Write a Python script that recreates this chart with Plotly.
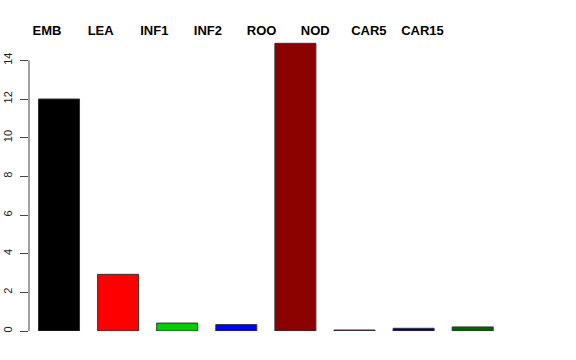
import plotly.graph_objects as go

categories = ["EMB", "LEA", "INF1", "INF2", "ROO", "NOD", "CAR5", "CAR15"]
values = [12.0, 2.93, 0.41, 0.33, 14.88, 0.05, 0.14, 0.21]
colors = ["#000000", "#FF0000", "#00CD00", "#0000FF", "#8B0000", "#800080", "#000080", "#006400"]
y_ticks = [0, 2, 4, 6, 8, 10, 12, 14]

idx = list(range(len(categories)))

fig = go.Figure()
fig.add_trace(go.Bar(
    x=idx,
    y=values,
    width=0.694,
    marker=dict(color=colors, line=dict(color="#333333", width=1)),
))
# invisible trace carrying the top label axis
fig.add_trace(go.Scatter(
    x=idx, y=values, xaxis="x2", mode="markers",
    marker=dict(opacity=0), hoverinfo="skip", showlegend=False,
))

fig.update_layout(
    width=576, height=360,
    paper_bgcolor="white", plot_bgcolor="white",
    margin=dict(l=29, r=46, t=41, b=29, autoexpand=False),
    showlegend=False,
    font=dict(family="Liberation Sans, Arial, sans-serif", color="black"),
    xaxis=dict(
        range=[-0.508, 7.97],
        showticklabels=False,
        ticks="", showline=False, showgrid=False, zeroline=False,
        automargin=False,
    ),
    xaxis2=dict(
        overlaying="x",
        side="top",
        range=[-0.336, 9.005],
        tickmode="array",
        tickvals=idx,
        ticktext=["<b>%s</b>" % c for c in categories],
        tickfont=dict(size=13, color="black"),
        ticks="", showline=False, showgrid=False, zeroline=False,
        ticklabelstandoff=2, automargin=False,
    ),
    yaxis=dict(
        range=[0, 15],
        tickmode="array",
        tickvals=y_ticks,
        ticktext=[str(v) for v in y_ticks],
        tickangle=-90,
        tickfont=dict(size=11, color="#222222"),
        ticks="outside", ticklen=8, tickcolor="#444444", tickwidth=1,
        showline=False, showgrid=False, zeroline=False,
        ticklabelstandoff=4, automargin=False,
    ),
)

fig.add_shape(type="line", xref="paper", yref="y", x0=0, x1=0,
              y0=y_ticks[0], y1=y_ticks[-1], line=dict(color="#444444", width=1))

fig.write_html("out.html")
